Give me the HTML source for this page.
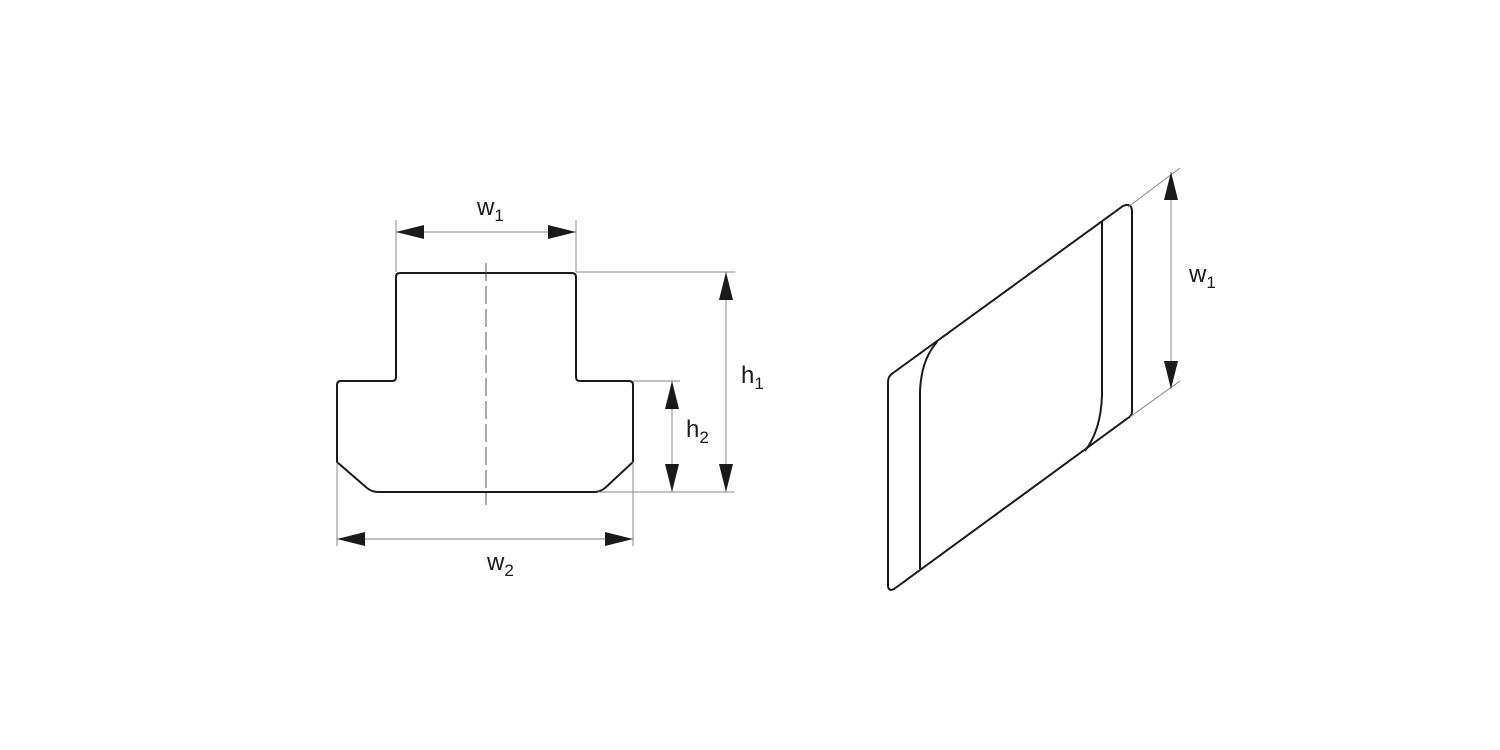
<!DOCTYPE html>
<html><head><meta charset="utf-8"><style>
html,body{margin:0;padding:0;background:#fff;}
svg{display:block;}
text{font-family:"Liberation Sans",Arial,sans-serif;fill:#1a1a1a;}
</style></head><body>
<svg width="1500" height="750" viewBox="0 0 1500 750" xmlns="http://www.w3.org/2000/svg">
<defs>
<marker id="a" viewBox="0 0 28 14" refX="28" refY="7" markerWidth="28" markerHeight="14" markerUnits="userSpaceOnUse" orient="auto-start-reverse">
<path d="M0,0 L28,7 L0,14 Z" fill="#1a1a1a"/>
</marker>
</defs>
<!-- T-slot profile -->
<path d="M400,273 L572,273 Q576,273 576,277 L576,377 Q576,381 580,381 L629,381 Q633,381 633,385 L633,462 L605,488 Q600,492 594,492 L378,492 Q372,492 367,488 L337,462 L337,385 Q337,381 341,381 L392,381 Q396,381 396,377 L396,277 Q396,273 400,273 Z" fill="none" stroke="#1a1a1a" stroke-width="2"/>
<line x1="486" y1="263" x2="486" y2="505" stroke="#555" stroke-width="1" stroke-dasharray="18,5"/>
<g stroke="#888" stroke-width="1">
<line x1="396" y1="220" x2="396" y2="272"/>
<line x1="576" y1="220" x2="576" y2="272"/>
<line x1="576" y1="272" x2="735" y2="272"/>
<line x1="598" y1="492" x2="735" y2="492"/>
<line x1="633" y1="381" x2="680" y2="381"/>
<line x1="337" y1="462" x2="337" y2="546"/>
<line x1="633" y1="462" x2="633" y2="546"/>
</g>
<g stroke="#888" stroke-width="1" fill="none">
<line x1="396" y1="232" x2="576" y2="232" marker-start="url(#a)" marker-end="url(#a)"/>
<line x1="337" y1="539" x2="633" y2="539" marker-start="url(#a)" marker-end="url(#a)"/>
<line x1="726" y1="272" x2="726" y2="492" marker-start="url(#a)" marker-end="url(#a)"/>
<line x1="672" y1="381" x2="672" y2="492" marker-start="url(#a)" marker-end="url(#a)"/>
</g>
<text x="477" y="215" font-size="24">w<tspan font-size="17" dy="6">1</tspan></text>
<text x="487" y="570" font-size="24">w<tspan font-size="17" dy="6">2</tspan></text>
<text x="741" y="383" font-size="24">h<tspan font-size="17" dy="6">1</tspan></text>
<text x="686" y="437" font-size="24">h<tspan font-size="17" dy="6">2</tspan></text>
<!-- isometric piece -->
<path d="M893,373 L1123,206 Q1132,202 1132,212 L1132,412 Q1132,416 1128,418 L894,589 Q888,592 888,585 L888,382 Q888,376 893,373 Z" fill="none" stroke="#1a1a1a" stroke-width="2"/>
<path d="M937,342 Q921,360 920,392 L920,569" fill="none" stroke="#1a1a1a" stroke-width="2"/>
<path d="M1102,222 L1102,395 Q1101,430 1085,451" fill="none" stroke="#1a1a1a" stroke-width="2"/>
<g stroke="#888" stroke-width="1">
<line x1="1128" y1="207" x2="1180" y2="168"/>
<line x1="1130" y1="417" x2="1180" y2="381"/>
<line x1="1171" y1="172" x2="1171" y2="389" marker-start="url(#a)" marker-end="url(#a)"/>
</g>
<text x="1189" y="282" font-size="24">w<tspan font-size="17" dy="6">1</tspan></text>
</svg>
</body></html>
